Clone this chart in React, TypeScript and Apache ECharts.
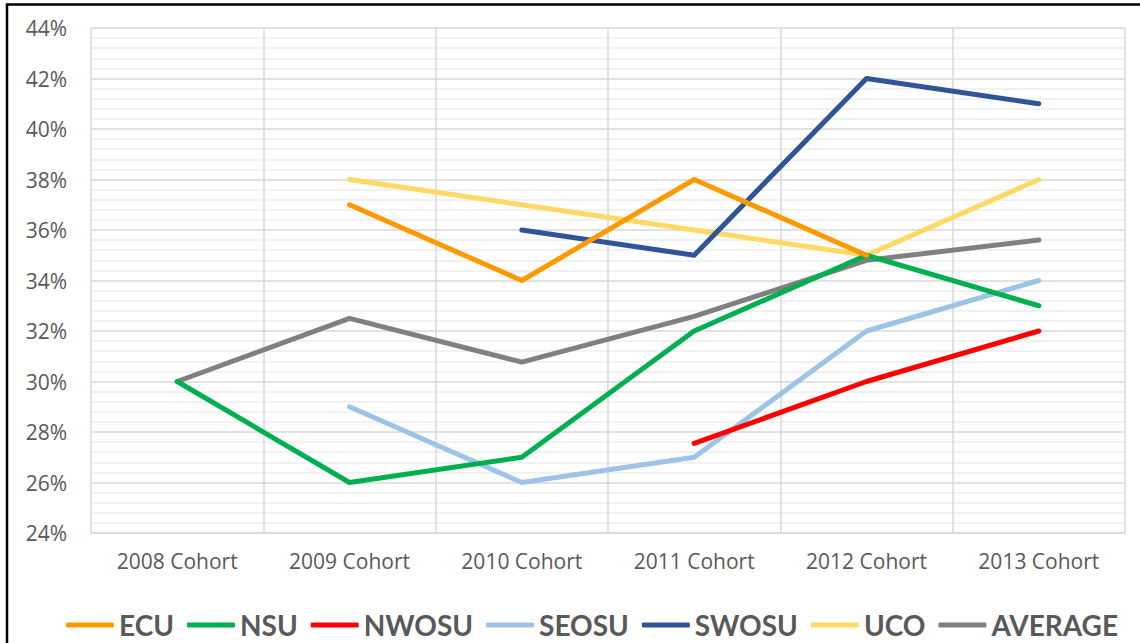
import React, { useEffect, useRef } from "react";
import * as echarts from "echarts";

const categories = ["2008 Cohort", "2009 Cohort", "2010 Cohort", "2011 Cohort", "2012 Cohort", "2013 Cohort"];
const ecu = [null, 0.37, 0.34, 0.38, 0.35, null];
const nsu = [0.30, 0.26, 0.27, 0.32, 0.35, 0.33];
const nwosu = [null, null, null, 0.2755, 0.30, 0.32];
const seosu = [null, 0.29, 0.26, 0.27, 0.32, 0.34];
const swosu = [null, null, 0.36, 0.35, 0.42, 0.41];
const uco = [null, 0.38, 0.37, 0.36, 0.35, 0.38];
const average = [0.30, 0.325, 0.3077, 0.3258, 0.348, 0.356];

const seriesNames = ["ECU", "NSU", "NWOSU", "SEOSU", "SWOSU", "UCO", "AVERAGE"];
const seriesData = [ecu, nsu, nwosu, seosu, swosu, uco, average];
const seriesColors = ["#FF9900", "#00B050", "#FF0000", "#9DC3E6", "#2F5597", "#FFD966", "#808080"];

export default function App() {
  const ref = useRef<HTMLDivElement>(null);
  useEffect(() => {
    if (!ref.current) return;
    const chart = echarts.init(ref.current, null, { renderer: "svg" });
    chart.setOption({
      animation: false,
      backgroundColor: "#ffffff",
      graphic: [
        {
          type: "rect",
          shape: { x: 7, y: 4.5, width: 1150, height: 660 },
          style: { fill: "none", stroke: "#000000", lineWidth: 2.5 },
          silent: true,
        },
      ],
      grid: { left: 91, right: 15, top: 28, bottom: 110, containLabel: false },
      legend: {
        top: 606,
        left: 61,
        icon: "roundRect",
        itemWidth: 48,
        itemHeight: 5,
        itemGap: 13,
        data: seriesNames,
        textStyle: { fontFamily: "Lato", fontWeight: "bold", fontSize: 28, color: "#595959" },
      },
      xAxis: {
        type: "category",
        data: categories,
        boundaryGap: true,
        axisLine: { show: true, lineStyle: { color: "#D9D9D9", width: 1.5 } },
        axisTick: { show: false },
        axisLabel: { margin: 17, fontFamily: "Open Sans", fontSize: 21, color: "#595959" },
        splitLine: { show: true, lineStyle: { color: "#D9D9D9", width: 1.5 } },
      },
      yAxis: {
        type: "value",
        min: 0.24,
        max: 0.44,
        interval: 0.02,
        axisLine: { show: false },
        axisTick: { show: false },
        axisLabel: {
          margin: 24,
          fontFamily: "Open Sans",
          fontSize: 21,
          color: "#595959",
          formatter: (v: number) => Math.round(v * 100) + "%",
        },
        splitLine: { show: true, lineStyle: { color: "#D9D9D9", width: 1.5 } },
        minorTick: { show: false, splitNumber: 5 },
        minorSplitLine: { show: true, lineStyle: { color: "#EEEEEE", width: 1.5 } },
      },
      series: seriesNames.map((name, i) => ({
        name,
        type: "line",
        data: seriesData[i],
        connectNulls: false,
        symbol: "none",
        color: seriesColors[i],
        lineStyle: { width: 5, color: seriesColors[i], cap: "round", join: "round" },
        z: 10 - i,
      })),
    });
    return () => chart.dispose();
  }, []);
  return (
    <div
      ref={ref}
      style={{ position: "fixed", left: 0, top: 0, width: 1140, height: 643 }}
    />
  );
}
